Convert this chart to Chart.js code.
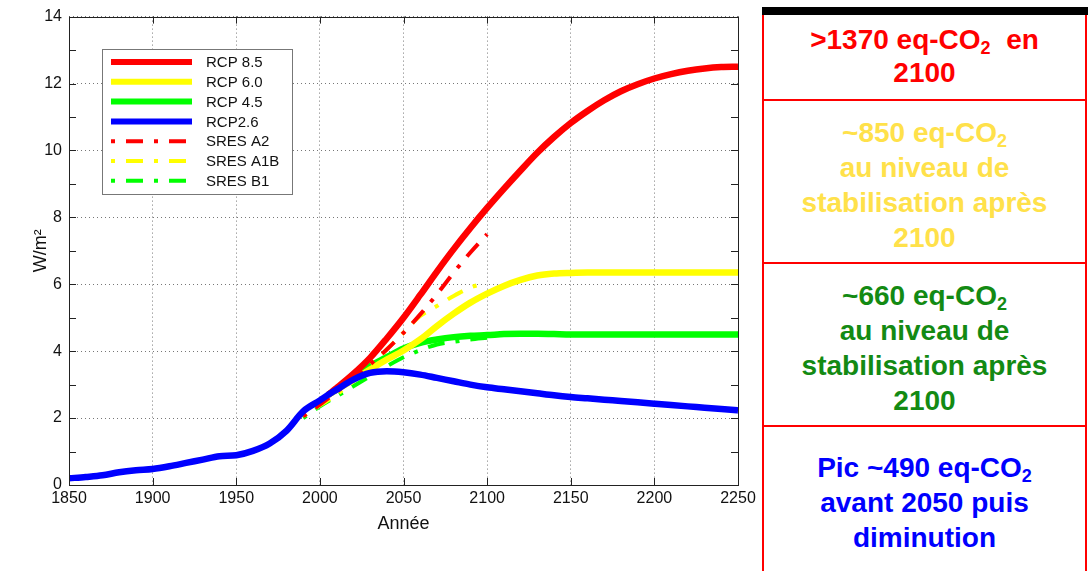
<!DOCTYPE html>
<html>
<head>
<meta charset="utf-8">
<script src="https://cdn.jsdelivr.net/npm/chart.js@4.4.1/dist/chart.umd.min.js"></script>
<style>
  body { margin: 0; background: #fff; width: 1088px; height: 571px; overflow: hidden; position: relative; font-family: "Liberation Sans", Arial, sans-serif; }
  #wrap { position: absolute; left: 0; top: 0; width: 760px; height: 571px; }
  .bar { position: absolute; left: 762px; top: 7px; width: 326px; height: 8px; background: #000; }
  .box { position: absolute; left: 762px; width: 325px; box-sizing: border-box; border: 2px solid #f00; border-top: none; text-align: center; font-weight: bold; font-size: 28px; line-height: 35px; }
  .box sub { font-size: 18px; vertical-align: -5px; line-height: 0; }
</style>
</head>
<body>
<div id="wrap"><canvas id="chart" width="760" height="571"></canvas></div>

<div class="bar"></div>
<div class="box" style="top:15px;height:86px;padding-top:8px;line-height:33px;color:#ff0000">&gt;1370 eq-CO<sub>2</sub>&nbsp; en<br>2100</div>
<div class="box" style="top:101px;height:163px;padding-top:14px;color:#ffe14a">~850 eq-CO<sub>2</sub><br>au niveau de<br>stabilisation après<br>2100</div>
<div class="box" style="top:264px;height:163px;padding-top:14px;color:#138a13">~660 eq-CO<sub>2</sub><br>au niveau de<br>stabilisation après<br>2100</div>
<div class="box" style="top:427px;height:150px;padding-top:23px;color:#0000ff">Pic ~490 eq-CO<sub>2</sub><br>avant 2050 puis<br>diminution</div>

<script>
// --- Data (W/m2 radiative forcing) ---
const histYears = [1850, 1860, 1870, 1880, 1890, 1900, 1910, 1920, 1930, 1940, 1950, 1960, 1970, 1980, 1990, 2000];
const histValues = [0.20, 0.24, 0.29, 0.38, 0.44, 0.48, 0.56, 0.66, 0.76, 0.86, 0.89, 1.02, 1.24, 1.62, 2.20, 2.53];

const rcpYears = [2005, 2010, 2020, 2030, 2040, 2050, 2060, 2070, 2080, 2090, 2100, 2110, 2120, 2130,
                  2140, 2150, 2160, 2170, 2180, 2190, 2200, 2210, 2220, 2230, 2240, 2250];
const rcp85 = [2.70, 2.90, 3.32, 3.80, 4.38, 5.00, 5.68, 6.38, 7.05, 7.68, 8.28, 8.85, 9.40, 9.93,
               10.40, 10.82, 11.18, 11.50, 11.77, 11.98, 12.15, 12.28, 12.38, 12.45, 12.49, 12.50];
const rcp60 = [2.70, 2.85, 3.15, 3.45, 3.75, 4.02, 4.35, 4.75, 5.12, 5.45, 5.72, 5.95, 6.13, 6.26,
               6.32, 6.34, 6.35, 6.35, 6.35, 6.35, 6.35, 6.35, 6.35, 6.35, 6.35, 6.35];
const rcp45 = [2.70, 2.85, 3.20, 3.55, 3.82, 4.08, 4.25, 4.35, 4.42, 4.46, 4.48, 4.51, 4.52, 4.52,
               4.51, 4.50, 4.50, 4.50, 4.50, 4.50, 4.50, 4.50, 4.50, 4.50, 4.50, 4.50];
const rcp26 = [2.70, 2.85, 3.15, 3.35, 3.40, 3.37, 3.30, 3.20, 3.10, 3.00, 2.92, 2.86, 2.80, 2.74,
               2.68, 2.63, 2.59, 2.55, 2.51, 2.47, 2.43, 2.39, 2.35, 2.31, 2.27, 2.23];

const sresYears = [1990, 2000, 2010, 2020, 2030, 2040, 2050, 2060, 2070, 2080, 2090, 2100];
const sresA2 = [2.05, 2.40, 2.78, 3.15, 3.60, 4.05, 4.55, 5.10, 5.70, 6.35, 6.95, 7.50];
const sresA1B = [2.05, 2.38, 2.70, 3.10, 3.55, 4.05, 4.55, 5.05, 5.35, 5.65, 5.90, 6.05];
const sresB1 = [2.00, 2.35, 2.65, 2.95, 3.25, 3.55, 3.82, 4.03, 4.20, 4.28, 4.35, 4.40];

const xTicks = [1850, 1900, 1950, 2000, 2050, 2100, 2150, 2200, 2250];
const yTicks = [0, 2, 4, 6, 8, 10, 12, 14];

const FONT = '"Liberation Sans", Arial, sans-serif';
const toXY = (xs, ys) => xs.map((x, i) => ({ x, y: ys[i] }));
const dashDot = [4, 11, 17, 11];

function solid(label, color, years, values, order) {
    return { label, data: toXY(years, values), borderColor: color, borderWidth: 6.5, order, kind: 'solid' };
}
function sres(label, color, values) {
    return { label, data: toXY(sresYears, values), borderColor: color, borderWidth: 4, borderDash: dashDot, borderCapStyle: 'butt', order: 1, kind: 'dash' };
}

// inward tick marks + box frame, MATLAB style
const framePlugin = {
    id: 'frame',
    afterDatasetsDraw(chart) {
        const { ctx, chartArea: a, scales: { x, y } } = chart;
        ctx.save();
        ctx.strokeStyle = '#222';
        ctx.lineWidth = 1;
        ctx.beginPath();
        for (let v = 1; v < 14; v++) {
            const py = Math.round(y.getPixelForValue(v)) + 0.5;
            ctx.moveTo(a.left, py); ctx.lineTo(a.left + 7, py);
            ctx.moveTo(a.right, py); ctx.lineTo(a.right - 7, py);
        }
        xTicks.forEach(t => {
            const px = Math.round(x.getPixelForValue(t)) + 0.5;
            ctx.moveTo(px, a.top); ctx.lineTo(px, a.top + 7);
            ctx.moveTo(px, a.bottom); ctx.lineTo(px, a.bottom - 7);
        });
        ctx.stroke();
        ctx.strokeRect(Math.round(a.left) + 0.5, Math.round(a.top) + 0.5, Math.round(a.width), Math.round(a.height));
        ctx.restore();
    }
};

// legend box drawn in the top-left corner of the plot
const legendPlugin = {
    id: 'boxLegend',
    afterDraw(chart) {
        const { ctx } = chart;
        const left = 102, top = 49, w = 190, h = 145;
        ctx.save();
        ctx.fillStyle = '#fff';
        ctx.fillRect(left, top, w, h);
        ctx.strokeStyle = '#777';
        ctx.lineWidth = 1;
        ctx.strokeRect(left + 0.5, top + 0.5, w, h);
        ctx.font = '15px ' + FONT;
        ctx.textBaseline = 'middle';
        ctx.fillStyle = '#111';
        chart.data.datasets.forEach((ds, i) => {
            const cy = top + 13 + i * 19.8;
            ctx.beginPath();
            ctx.strokeStyle = ds.borderColor;
            ctx.lineWidth = ds.kind === 'solid' ? 6 : 4;
            ctx.setLineDash(ds.kind === 'solid' ? [] : dashDot);
            ctx.moveTo(111, cy); ctx.lineTo(192, cy);
            ctx.stroke();
            ctx.setLineDash([]);
            ctx.fillText(ds.label, 206, cy + 1);
        });
        ctx.restore();
    }
};

new Chart(document.getElementById('chart'), {
    type: 'line',
    data: {
        datasets: [
            solid('RCP 8.5', '#ff0000', rcpYears, rcp85, 2),
            solid('RCP 6.0', '#ffff00', rcpYears, rcp60, 2),
            solid('RCP 4.5', '#00ff00', rcpYears, rcp45, 2),
            solid('RCP2.6', '#0000ff', histYears.concat(rcpYears), histValues.concat(rcp26), 0),
            sres('SRES A2', '#ff0000', sresA2),
            sres('SRES A1B', '#ffff00', sresA1B),
            sres('SRES B1', '#00ff00', sresB1)
        ]
    },
    options: {
        responsive: false,
        animation: false,
        events: [],
        layout: { padding: { left: 0, right: 22, top: 15, bottom: 0 } },
        elements: {
            point: { radius: 0 },
            line: { cubicInterpolationMode: 'monotone', fill: false }
        },
        plugins: { legend: { display: false }, tooltip: { enabled: false } },
        scales: {
            x: {
                type: 'linear', min: 1850, max: 2250,
                afterBuildTicks: s => { s.ticks = xTicks.map(v => ({ value: v })); },
                afterFit: s => { s.height = 86; },
                grid: { color: '#777', drawTicks: false },
                border: { display: false, dash: [1, 3] },
                ticks: { color: '#111', font: { size: 16, family: FONT }, padding: 4, maxRotation: 0, callback: v => String(v) },
                title: { display: true, text: 'Année', color: '#111', font: { size: 18, family: FONT }, padding: { top: 0, bottom: 36 } }
            },
            y: {
                type: 'linear', min: 0, max: 14,
                afterBuildTicks: s => { s.ticks = yTicks.map(v => ({ value: v })); },
                afterFit: s => { s.width = 69; },
                grid: { color: '#777', drawTicks: false },
                border: { display: false, dash: [1, 3] },
                ticks: { color: '#111', font: { size: 16, family: FONT }, padding: 7, callback: v => String(v) },
                title: { display: true, text: 'W/m²', color: '#111', font: { size: 18, family: FONT }, padding: { top: 30, bottom: 0 } }
            }
        }
    },
    plugins: [framePlugin, legendPlugin]
});
</script>
</body>
</html>
